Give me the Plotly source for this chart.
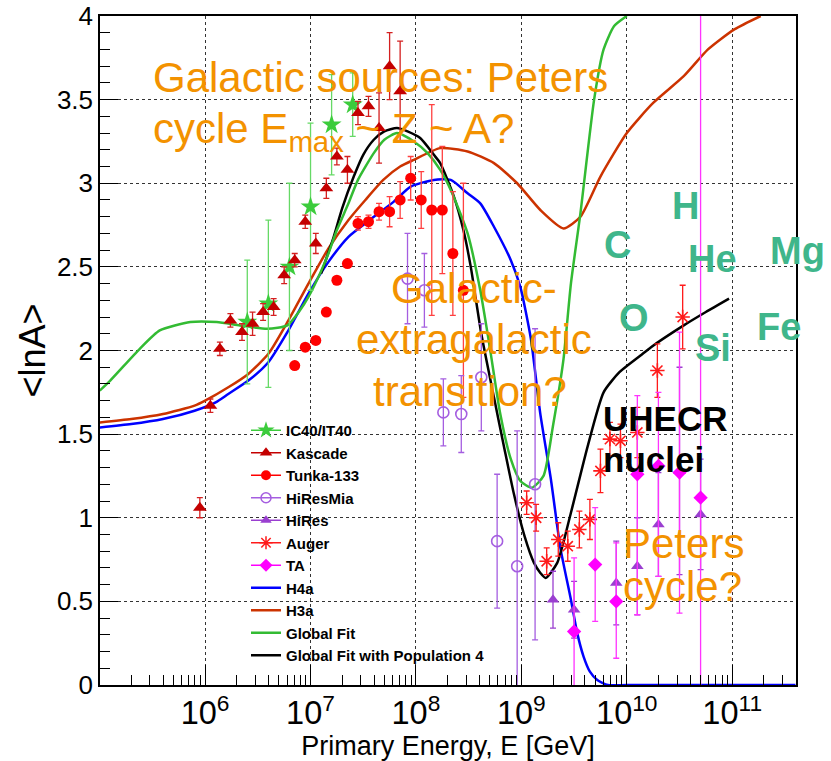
import plotly.graph_objects as go

# ---------------- data (log10(E/GeV), <lnA>) ----------------
ic_lgE = [6.40, 6.60, 6.80, 7.00, 7.20, 7.40]
ic_lnA = [2.17, 2.28, 2.50, 2.86, 3.35, 3.47]
ic_err = [0.37, 0.50, 0.50, 0.50, 0.30, 0.19]

kas_lgE = [5.95, 6.05, 6.14, 6.24, 6.35, 6.45, 6.55, 6.65, 6.75, 6.85,
           6.95, 7.05, 7.15, 7.25, 7.35, 7.45, 7.55, 7.65, 7.75, 7.85]
kas_lnA = [1.06, 1.67, 2.01, 2.18, 2.11, 2.16, 2.23, 2.26, 2.45, 2.54,
           2.77, 2.64, 2.97, 3.16, 3.08, 3.42, 3.46, 3.33, 3.70, 3.55]
kas_err = [0.06, 0.04, 0.04, 0.04, 0.05, 0.07, 0.05, 0.05, 0.05, 0.04,
           0.04, 0.06, 0.06, 0.05, 0.08, 0.07, 0.06, 0.21, 0.20, 0.30]

tun_lgE = [6.85, 6.95, 7.05, 7.15, 7.25, 7.35, 7.45, 7.55, 7.65, 7.75,
           7.85, 7.95, 8.05, 8.15, 8.25, 8.35, 8.45]
tun_lnA = [1.91, 2.02, 2.06, 2.23, 2.42, 2.52, 2.76, 2.77, 2.83, 2.83,
           2.90, 3.03, 2.90, 2.84, 2.84, 2.58, 2.36]
tun_err = [0.0, 0.0, 0.0, 0.0, 0.0, 0.0, 0.04, 0.04, 0.05, 0.09,
           0.11, 0.13, 0.17, 0.63, 0.38, 0.37, 0.64]

hm_lgE = [7.92, 8.08, 8.26, 8.43, 8.62, 8.77, 8.96, 9.13]
hm_lnA = [2.43, 2.36, 1.63, 1.62, 1.84, 0.86, 0.71, 1.20]
hm_err = [0.27, 0.22, 0.20, 0.23, 0.32, 0.40, 0.81, 0.93]

hr_lgE = [9.30, 9.50, 9.90, 10.10, 10.30, 10.50, 10.70]
hr_lnA = [0.51, 0.45, 0.61, 0.71, 0.96, 1.28, 1.02]
hr_err = [0.17, 0.17, 0.25, 0.29, 0.31, 0.62, 0.33]

au_lgE = [9.05, 9.14, 9.24, 9.35, 9.44, 9.55, 9.65, 9.75, 9.84, 9.94, 10.10, 10.29, 10.53]
au_lnA = [1.09, 1.00, 0.74, 0.87, 0.83, 0.93, 0.99, 1.28, 1.47, 1.46, 1.51, 1.88, 2.20]
au_err = [0.07, 0.08, 0.08, 0.10, 0.09, 0.11, 0.12, 0.13, 0.10, 0.10, 0.15, 0.16, 0.19]

ta_lgE = [9.50, 9.70, 9.90, 10.10, 10.30, 10.50, 10.70]
ta_lnA = [0.32, 0.72, 0.50, 1.26, 1.31, 1.27, 1.12]
ta_up = [0.44, 0.34, 0.35, 0.47, 0.44, 0.84, 3.00]
ta_dn = [0.44, 0.34, 0.34, 0.84, 0.66, 0.84, 3.00]

h4a_lgE = [5.0, 5.3, 5.6, 5.9, 6.1, 6.22, 6.41, 6.6, 6.79, 6.98, 7.17, 7.36, 7.54, 7.79,
           7.95, 8.17, 8.33, 8.49, 8.61, 8.74, 8.90, 8.99, 9.09, 9.18, 9.28, 9.37, 9.47,
           9.53, 9.59, 9.65, 9.72, 9.82, 10.0, 11.6]
h4a_lnA = [1.54, 1.56, 1.59, 1.64, 1.69, 1.74, 1.82, 1.93, 2.12, 2.34, 2.53, 2.68, 2.77, 2.89,
           2.98, 3.02, 3.02, 2.94, 2.88, 2.74, 2.54, 2.38, 2.07, 1.62, 1.23, 0.82, 0.51,
           0.31, 0.17, 0.08, 0.03, 0.0, 0.0, 0.0]

h3a_lgE = [5.0, 5.3, 5.6, 5.9, 6.0, 6.22, 6.41, 6.6, 6.79, 6.98, 7.17, 7.36, 7.52, 7.69,
           7.85, 7.98, 8.23, 8.49, 8.74, 8.96, 9.18, 9.40, 9.56, 9.75, 10.0, 10.25,
           10.54, 10.77, 11.02, 11.27]
h3a_lnA = [1.57, 1.59, 1.62, 1.67, 1.70, 1.78, 1.86, 1.98, 2.18, 2.40, 2.61, 2.78, 2.90, 3.02,
           3.10, 3.14, 3.21, 3.19, 3.12, 3.00, 2.84, 2.73, 2.80, 3.04, 3.30, 3.48,
           3.64, 3.80, 3.92, 4.0]

gf_lgE = [5.0, 5.1, 5.38, 5.57, 5.86, 6.11, 6.33, 6.59, 6.78, 6.90, 6.98, 7.09, 7.17, 7.25,
          7.36, 7.45, 7.60, 7.70, 7.82, 7.98, 8.11, 8.23, 8.33, 8.49, 8.61, 8.70, 8.80,
          8.90, 8.99, 9.10, 9.21, 9.30, 9.40, 9.47, 9.56, 9.69, 9.78, 9.88, 10.0]
gf_lnA = [1.76, 1.82, 2.01, 2.12, 2.17, 2.17, 2.15, 2.13, 2.15, 2.24, 2.32, 2.46, 2.58, 2.72,
          2.88, 3.02, 3.18, 3.26, 3.30, 3.25, 3.18, 3.08, 2.96, 2.70, 2.36, 2.02, 1.62,
          1.35, 1.22, 1.18, 1.25, 1.55, 1.95, 2.40, 2.82, 3.50, 3.80, 3.94, 4.0]

gp4_lgE = [7.10, 7.15, 7.22, 7.30, 7.41, 7.50, 7.60, 7.70, 7.82, 7.92, 8.04, 8.17, 8.23, 8.36,
           8.45, 8.52, 8.62, 8.74, 8.84, 8.93, 9.03, 9.12, 9.18, 9.23, 9.34, 9.47, 9.63,
           9.78, 9.93, 10.13, 10.23, 10.54, 10.75, 10.97]
gp4_lnA = [2.46, 2.55, 2.68, 2.85, 3.04, 3.17, 3.26, 3.31, 3.33, 3.31, 3.27, 3.17, 3.12, 2.92,
           2.72, 2.50, 2.10, 1.72, 1.41, 1.14, 0.89, 0.73, 0.67, 0.64, 0.73, 1.03, 1.43,
           1.75, 1.87, 1.97, 2.02, 2.15, 2.23, 2.31]


def E(lg):
    return [10 ** v for v in lg]


FONT = "Liberation Sans, Arial, Helvetica, sans-serif"
fig = go.Figure()

# ---------------- model curves ----------------
curves = [
    ("H4a", h4a_lgE, h4a_lnA, "#0000ff"),
    ("H3a", h3a_lgE, h3a_lnA, "#cc3300"),
    ("Global Fit with Population 4", gp4_lgE, gp4_lnA, "#000000"),
    ("Global Fit", gf_lgE, gf_lnA, "#33bb33"),
]
for name, lx, ly, col in curves:
    fig.add_trace(go.Scatter(x=E(lx), y=ly, mode="lines", name=name, showlegend=False,
                             line=dict(color=col, width=2.5, shape="spline", smoothing=0.6)))

# ---------------- data sets ----------------
def pts(name, lx, ly, col, sym, size, up, dn=None, ecol=None, lw=0):
    ey = dict(type="data", array=up, color=ecol or col, thickness=1.3, width=3, visible=True)
    if dn is not None:
        ey["symmetric"] = False
        ey["arrayminus"] = dn
    fig.add_trace(go.Scatter(x=E(lx), y=ly, mode="markers", name=name, showlegend=False,
                             marker=dict(color=col, symbol=sym, size=size,
                                         line=dict(color=col, width=lw)),
                             error_y=ey))

pts("IC40/IT40", ic_lgE, ic_lnA, "#3ccc3c", "star", 15, ic_err, ecol="#66d966")
pts("Kascade", kas_lgE, kas_lnA, "#c40000", "triangle-up", 12, kas_err, ecol="#d42020")
pts("Tunka-133", tun_lgE, tun_lnA, "#ff0000", "circle", 11, tun_err, ecol="#ff4040")
pts("HiResMia", hm_lgE, hm_lnA, "#a55ee0", "circle-open", 11, hm_err, lw=1.6)
pts("HiRes", hr_lgE, hr_lnA, "#9a3fd0", "triangle-up", 11, hr_err)
pts("Auger", au_lgE, au_lnA, "#ff1a1a", "asterisk-open", 12, au_err, lw=1.6)
pts("TA", ta_lgE, ta_lnA, "#ff00ff", "diamond", 11, ta_up, dn=ta_dn, ecol="#ff33ff")

# ---------------- legend entries ----------------
leg = [
    ("IC40/IT40", "#3ccc3c", "star", 13, 0),
    ("Kascade", "#c40000", "triangle-up", 11, 0),
    ("Tunka-133", "#ff0000", "circle", 10, 0),
    ("HiResMia", "#a55ee0", "circle-open", 10, 1.5),
    ("HiRes", "#9a3fd0", "triangle-up", 10, 0),
    ("Auger", "#ff1a1a", "asterisk-open", 11, 1.5),
    ("TA", "#ff00ff", "diamond", 10, 0),
]
for name, col, sym, sz, lw in leg:
    fig.add_trace(go.Scatter(x=[None], y=[None], mode="lines+markers", name=name,
                             line=dict(color=col, width=1.5),
                             marker=dict(color=col, symbol=sym, size=sz,
                                         line=dict(color=col, width=lw))))
for name, col in [("H4a", "#0000ff"), ("H3a", "#cc3300"), ("Global Fit", "#33bb33"),
                  ("Global Fit with Population 4", "#000000")]:
    fig.add_trace(go.Scatter(x=[None], y=[None], mode="lines", name=name,
                             line=dict(color=col, width=2.5)))

# ---------------- annotations ----------------
PL, PR, PT, PB = 100, 796, 16, 685


def ann(text, px, py, size, color, xanchor="left", bold=False):
    fig.add_annotation(text=text, xref="paper", yref="paper",
                       x=(px - PL) / (PR - PL), y=(PB - py) / (PB - PT),
                       xanchor=xanchor, yanchor="middle", showarrow=False,
                       font=dict(family=FONT, size=size, color=color,
                                 weight=700 if bold else 400))


ORANGE = "#f39200"
ann("Galactic sources: Peters", 151, 77, 42, ORANGE)
ann("cycle E<sub>max</sub> ~ Z ~ A?", 151, 131, 42, ORANGE)
ann("Galactic-", 474, 288, 42, ORANGE, "center")
ann("extragalactic", 474, 339, 42, ORANGE, "center")
ann("transition?", 470, 391, 42, ORANGE, "center")
ann("Peters", 621, 543, 42, ORANGE)
ann("cycle?", 621, 586, 42, ORANGE)
ann("UHECR", 601, 418, 35, "#000000", bold=True)
ann("nuclei", 601, 460, 35, "#000000", bold=True)

GREEN = "#3fb68b"
for t, x, y in [("H", 685, 206), ("C", 617, 245), ("He", 712, 259), ("Mg", 798, 251),
                ("O", 634, 318), ("Fe", 779, 327), ("Si", 713, 348)]:
    ann(t, x, y, 38, GREEN, "center", bold=True)

# ---------------- layout ----------------
fig.update_layout(
    width=831, height=761,
    margin=dict(l=PL, r=831 - PR, t=PT, b=761 - PB, autoexpand=False),
    paper_bgcolor="white", plot_bgcolor="white",
    font=dict(family=FONT, color="black"),
    showlegend=True,
    legend=dict(x=(246 - PL) / (PR - PL), y=(PB - 414) / (PB - PT), xanchor="left", yanchor="top",
                bgcolor="rgba(0,0,0,0)", borderwidth=0,
                font=dict(family=FONT, size=15, color="black", weight=700)),
    xaxis=dict(type="log", range=[5.003, 11.605], dtick=1, exponentformat="power",
               automargin=False,
               showline=True, linecolor="black", linewidth=1.5, mirror=True,
               ticks="inside", ticklen=20, tickwidth=1, tickcolor="black",
               tickfont=dict(size=26, family=FONT),
               showgrid=True, gridcolor="#333333", griddash="dot", gridwidth=1,
               minor=dict(ticks="inside", ticklen=10, tickwidth=1, tickcolor="black",
                          dtick="D1", showgrid=False),
               title=dict(text="Primary Energy, E [GeV]", font=dict(size=27, family=FONT),
                          standoff=8),
               zeroline=False),
    yaxis=dict(range=[0, 4], dtick=0.5, automargin=False,
               showline=True, linecolor="black", linewidth=1.5, mirror=True,
               ticks="inside", ticklen=18, tickwidth=1, tickcolor="black",
               tickfont=dict(size=26, family=FONT),
               showgrid=True, gridcolor="#333333", griddash="dot", gridwidth=1,
               minor=dict(ticks="inside", ticklen=10, tickwidth=1, tickcolor="black",
                          dtick=0.1, showgrid=False),
               title=dict(text="&lt;lnA&gt;", font=dict(size=36, family=FONT), standoff=0),
               zeroline=False),
)

fig.write_html("out.html")
